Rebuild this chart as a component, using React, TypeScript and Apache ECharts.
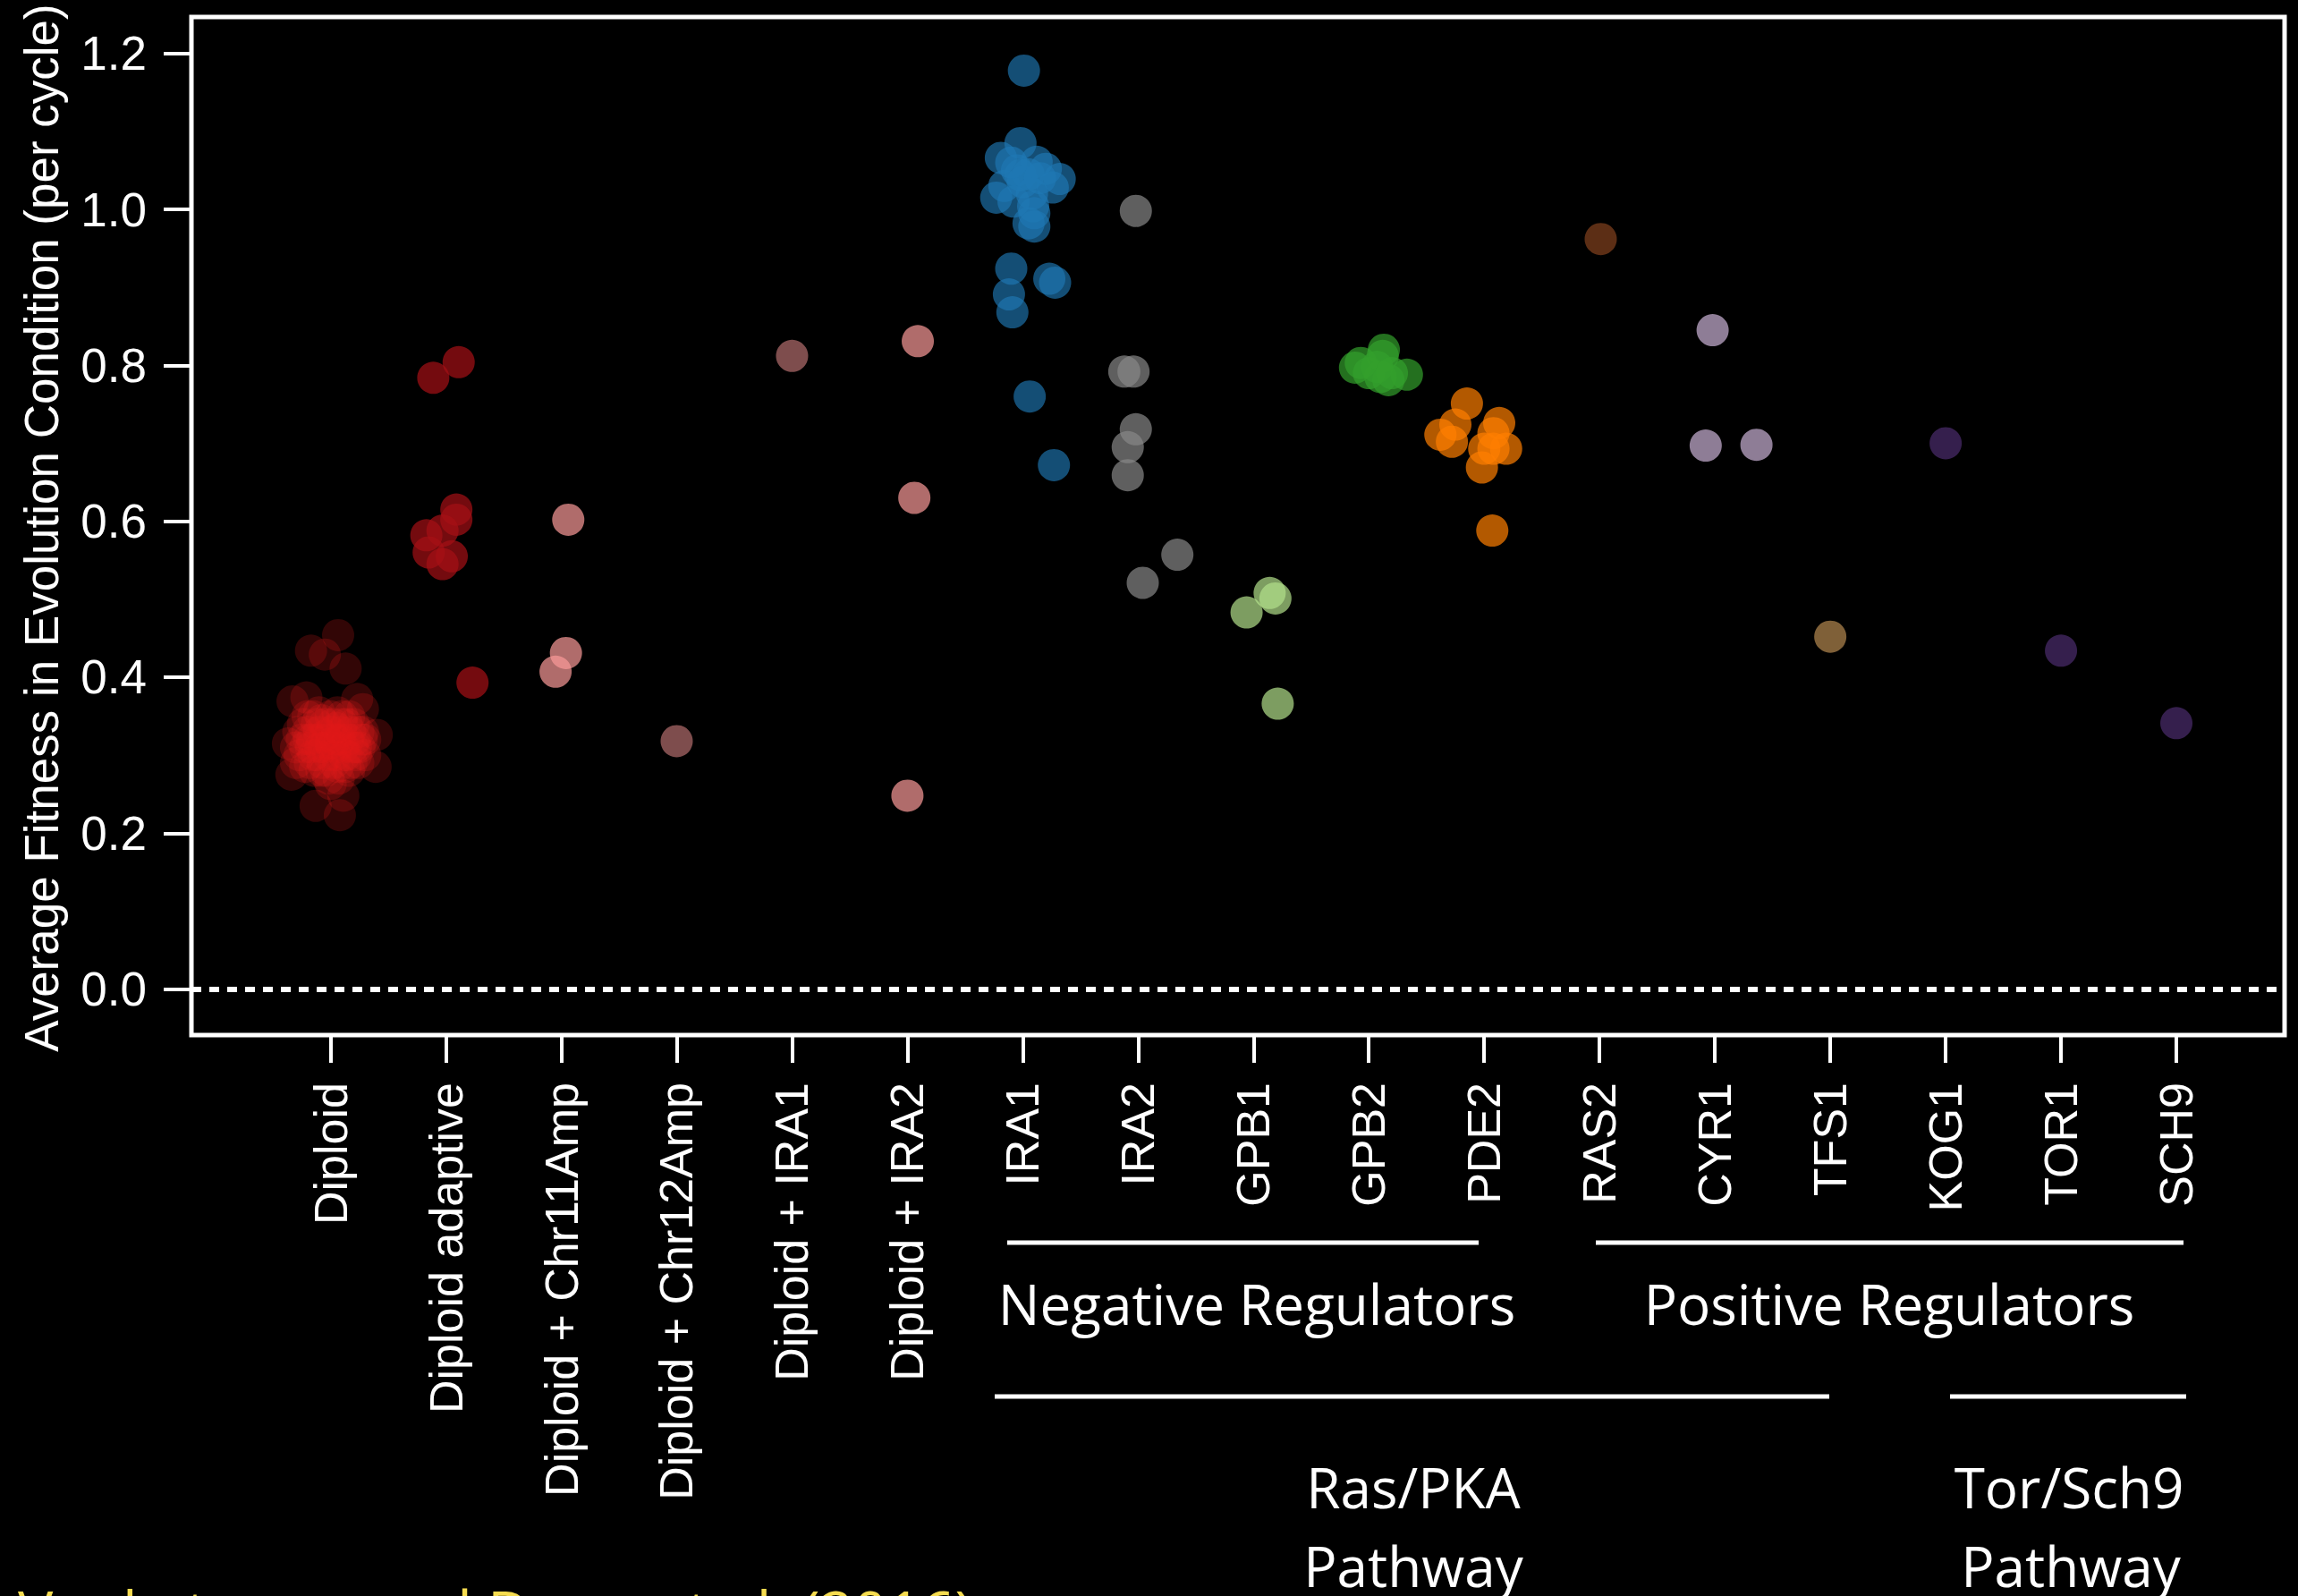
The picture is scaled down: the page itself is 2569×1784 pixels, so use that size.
import React, { useEffect, useRef } from "react";
import * as echarts from "echarts";

const W = 2569;
const H = 1784;

const categories = [
  "Diploid", "Diploid adaptive", "Diploid + Chr11Amp", "Diploid + Chr12Amp",
  "Diploid + IRA1", "Diploid + IRA2", "IRA1", "IRA2", "GPB1", "GPB2", "PDE2",
  "RAS2", "CYR1", "TFS1", "KOG1", "TOR1", "SCH9",
];

const yTickValues = [0, 0.2, 0.4, 0.6, 0.8, 1.0, 1.2];

// [horizontal jitter from the category centre, fitness]
const diploid = [
  [0.065, 0.454], [-0.17, 0.434], [-0.05, 0.429], [0.13, 0.411], [-0.33, 0.369], [-0.21, 0.374],
  [0.23, 0.372], [0.28, 0.359], [0.4, 0.326], [-0.37, 0.315], [-0.34, 0.275], [0.39, 0.285],
  [-0.13, 0.235], [0.08, 0.223], [0.11, 0.248], [0.0, 0.263],
  [-0.24, 0.34], [-0.2, 0.33], [-0.15, 0.35], [-0.1, 0.32], [-0.05, 0.34], [0.0, 0.33],
  [0.05, 0.31], [0.1, 0.35], [0.15, 0.32], [0.2, 0.34], [0.25, 0.31], [0.28, 0.33],
  [-0.27, 0.3], [-0.22, 0.31], [-0.18, 0.29], [-0.12, 0.3], [-0.08, 0.28], [-0.02, 0.3],
  [0.03, 0.29], [0.08, 0.32], [0.12, 0.3], [0.18, 0.29], [0.22, 0.3], [0.27, 0.32],
  [-0.25, 0.32], [-0.16, 0.32], [-0.06, 0.31], [0.04, 0.32], [0.14, 0.34], [0.24, 0.33],
  [-0.2, 0.35], [-0.1, 0.355], [0.0, 0.35], [0.06, 0.355], [0.16, 0.35], [-0.28, 0.33],
  [-0.22, 0.285], [-0.14, 0.28], [-0.04, 0.28], [0.06, 0.285], [0.16, 0.28], [0.24, 0.29],
  [-0.1, 0.33], [0.09, 0.33], [0.19, 0.31], [-0.07, 0.29], [0.01, 0.31], [-0.17, 0.31],
  [0.11, 0.31], [0.21, 0.32], [-0.03, 0.32], [0.3, 0.3], [-0.3, 0.29], [0.02, 0.34],
  [-0.12, 0.34], [0.13, 0.285], [-0.02, 0.27], [0.07, 0.27], [0.3, 0.32], [-0.3, 0.31],
  [-0.08, 0.345], [0.04, 0.3], [-0.15, 0.3], [0.17, 0.33], [-0.05, 0.325], [0.1, 0.34],
  [0.0, 0.315], [-0.19, 0.32], [0.22, 0.31], [-0.09, 0.31], [0.14, 0.3], [0.05, 0.335],
];
const diploidAdaptive = [
  [-0.11, 0.784], [0.11, 0.804], [0.09, 0.615], [0.09, 0.602], [-0.03, 0.588],
  [-0.17, 0.582], [-0.15, 0.56], [0.05, 0.555], [-0.03, 0.545], [0.23, 0.393],
];
const chr11Amp = [[0.06, 0.602], [0.04, 0.431], [-0.05, 0.407]];
const chr12Amp = [[0.0, 0.318]];
const diploidIra1 = [[0.0, 0.812]];
const diploidIra2 = [[0.09, 0.831], [0.06, 0.63], [0.0, 0.248]];
const ira1 = [
  [0.01, 1.178], [-0.02, 1.085], [-0.19, 1.066], [-0.23, 1.015], [-0.16, 1.03], [0.12, 1.061],
  [0.2, 1.052], [0.32, 1.039], [0.26, 1.028], [-0.02, 1.044], [0.09, 1.004], [0.05, 0.982],
  [0.1, 0.978], [-0.1, 0.924], [0.23, 0.911], [0.28, 0.906], [-0.12, 0.891], [-0.09, 0.868],
  [0.06, 0.76], [0.27, 0.672], [-0.05, 1.05], [0.05, 1.045], [0.0, 1.035], [0.08, 1.02],
  [-0.08, 1.01], [0.15, 1.04], [-0.1, 1.06], [0.1, 0.995],
];
const ira2 = [
  [-0.02, 0.998], [-0.12, 0.792], [-0.04, 0.792], [-0.02, 0.718], [-0.09, 0.695],
  [-0.09, 0.659], [0.34, 0.557], [0.04, 0.521],
];
const gpb1 = [[0.14, 0.508], [0.19, 0.501], [-0.06, 0.483], [0.21, 0.366]];
const gpb2 = [
  [0.13, 0.82], [0.12, 0.812], [-0.12, 0.797], [-0.07, 0.803], [0.33, 0.788],
  [0.1, 0.785], [0.17, 0.781], [0.0, 0.79], [0.07, 0.798], [0.2, 0.79],
];
const pde2 = [
  [-0.15, 0.751], [-0.25, 0.724], [-0.38, 0.711], [-0.28, 0.702], [0.13, 0.726], [0.08, 0.713],
  [0.0, 0.693], [0.19, 0.693], [0.08, 0.693], [-0.02, 0.669], [0.07, 0.588],
];
const ras2 = [[0.01, 0.962]];
const cyr1 = [[-0.02, 0.845], [-0.08, 0.697], [0.36, 0.698]];
const tfs1 = [[0.0, 0.452]];
const kog1 = [[0.0, 0.7]];
const tor1 = [[0.0, 0.434]];
const sch9 = [[0.0, 0.341]];

const groups = [
  diploid, diploidAdaptive, chr11Amp, chr12Amp, diploidIra1, diploidIra2, ira1, ira2,
  gpb1, gpb2, pde2, ras2, cyr1, tfs1, kog1, tor1, sch9,
];

const groupStyles = [
  { color: "#E31A1C", opacity: 0.22 },
  { color: "#A50F15", opacity: 0.7 },
  { color: "#FB9A99", opacity: 0.7 },
  { color: "#FB9A99", opacity: 0.5 },
  { color: "#FB9A99", opacity: 0.5 },
  { color: "#FB9A99", opacity: 0.7 },
  { color: "#1F78B4", opacity: 0.65 },
  { color: "#888888", opacity: 0.7 },
  { color: "#B2DF8A", opacity: 0.7 },
  { color: "#33A02C", opacity: 0.7 },
  { color: "#FF7F00", opacity: 0.7 },
  { color: "#B15928", opacity: 0.52 },
  { color: "#CAB2D6", opacity: 0.7 },
  { color: "#FDBF6F", opacity: 0.5 },
  { color: "#6A3D9A", opacity: 0.5 },
  { color: "#6A3D9A", opacity: 0.5 },
  { color: "#6A3D9A", opacity: 0.5 },
];

// layout (pixels)
const BOX = { left: 214, top: 19, right: 2554, bottom: 1157 };
const X_MIN = -0.2066;
const X_MAX = 17.938;
const Y_MIN = -0.059;
const Y_MAX = 1.2467;
const CAT_STEP = 128.96;
const CAT_FIRST = 369.6;
const Y0_PX = 1105.6;
const Y12_PX = 59.7;

const AXIS_FONT = "Liberation Sans";
const NOTE_FONT = "Open Sans";

function buildOption() {
  const series: any[] = groups.map((pts, i) => ({
    type: "scatter",
    xAxisIndex: 0,
    yAxisIndex: 0,
    symbol: "circle",
    symbolSize: 36,
    silent: true,
    itemStyle: { color: groupStyles[i].color, opacity: groupStyles[i].opacity },
    data: pts.map(([dx, v]) => [i + 1 + dx, v]),
  }));
  series.push({
    type: "scatter",
    xAxisIndex: 0,
    yAxisIndex: 0,
    data: [],
    silent: true,
    markLine: {
      silent: true,
      symbol: ["none", "none"],
      label: { show: false },
      lineStyle: { color: "#ffffff", width: 6, type: [11, 9] },
      data: [{ yAxis: 0 }],
    },
  });

  const white = "#ffffff";
  const noteText = (text: string, x: number, y: number, size = 62, color = white, align = "center") => ({
    type: "text",
    x,
    y,
    silent: true,
    style: {
      text,
      fill: color,
      fontSize: size,
      fontFamily: NOTE_FONT,
      textAlign: align,
      verticalAlign: "middle",
    },
  });
  const hLine = (x1: number, x2: number, y: number) => ({
    type: "line",
    silent: true,
    shape: { x1, y1: y, x2, y2: y },
    style: { stroke: white, lineWidth: 5 },
  });

  return {
    animation: false,
    backgroundColor: "#000000",
    grid: [
      {
        left: BOX.left,
        top: BOX.top,
        width: BOX.right - BOX.left,
        height: BOX.bottom - BOX.top,
        show: true,
        borderColor: white,
        borderWidth: 5,
        backgroundColor: "transparent",
      },
      {
        left: CAT_FIRST - CAT_STEP / 2,
        width: CAT_STEP * categories.length,
        top: BOX.bottom - 5,
        height: 5,
      },
      {
        left: BOX.left,
        width: BOX.right - BOX.left,
        top: Y12_PX,
        height: Y0_PX - Y12_PX,
      },
    ],
    xAxis: [
      { gridIndex: 0, type: "value", min: X_MIN, max: X_MAX, show: false, splitLine: { show: false } },
      {
        gridIndex: 1,
        type: "category",
        data: categories,
        position: "bottom",
        axisLine: { show: false },
        splitLine: { show: false },
        axisTick: { show: true, alignWithLabel: true, length: 31, lineStyle: { color: white, width: 4 } },
        axisLabel: {
          show: true,
          interval: 0,
          rotate: 90,
          margin: 53,
          color: white,
          fontSize: 52,
          fontFamily: AXIS_FONT,
        },
      },
      { gridIndex: 2, type: "value", show: false, min: 0, max: 1 },
    ],
    yAxis: [
      { gridIndex: 0, type: "value", min: Y_MIN, max: Y_MAX, show: false, splitLine: { show: false } },
      { gridIndex: 1, type: "value", show: false, min: 0, max: 1 },
      {
        gridIndex: 2,
        type: "value",
        min: yTickValues[0],
        max: yTickValues[yTickValues.length - 1],
        interval: 0.2,
        position: "left",
        axisLine: { show: false },
        splitLine: { show: false },
        axisTick: { show: true, length: 31, lineStyle: { color: white, width: 4 } },
        axisLabel: {
          show: true,
          margin: 50,
          color: white,
          fontSize: 53,
          fontFamily: AXIS_FONT,
          formatter: (v: number) => v.toFixed(1),
        },
      },
    ],
    series,
    graphic: [
      {
        type: "text",
        x: 46,
        y: 590,
        rotation: Math.PI / 2,
        silent: true,
        style: {
          text: "Average Fitness in Evolution Condition (per cycle)",
          fill: white,
          fontSize: 53,
          fontFamily: AXIS_FONT,
          textAlign: "center",
          verticalAlign: "middle",
        },
      },
      hLine(1126, 1653, 1389),
      hLine(1784, 2441, 1389),
      noteText("Negative Regulators", 1405, 1457),
      noteText("Positive Regulators", 2112, 1457),
      hLine(1112, 2045, 1561),
      hLine(2180, 2444, 1561),
      noteText("Ras/PKA", 1580, 1662),
      noteText("Pathway", 1580, 1750),
      noteText("Tor/Sch9", 2313, 1662),
      noteText("Pathway", 2315, 1750),
      noteText("Venkataram and Dunn et al. (2016)", 20, 1800, 66, "#F5DC50", "left"),
    ],
  };
}

export default function App() {
  const ref = useRef<HTMLDivElement>(null);
  useEffect(() => {
    document.body.style.margin = "0";
    document.body.style.background = "#000000";
    const chart = echarts.init(ref.current!, null, { renderer: "svg", width: W, height: H });
    chart.setOption(buildOption() as any);
    return () => chart.dispose();
  }, []);
  return <div ref={ref} style={{ width: W, height: H, background: "#000000", overflow: "hidden" }} />;
}
